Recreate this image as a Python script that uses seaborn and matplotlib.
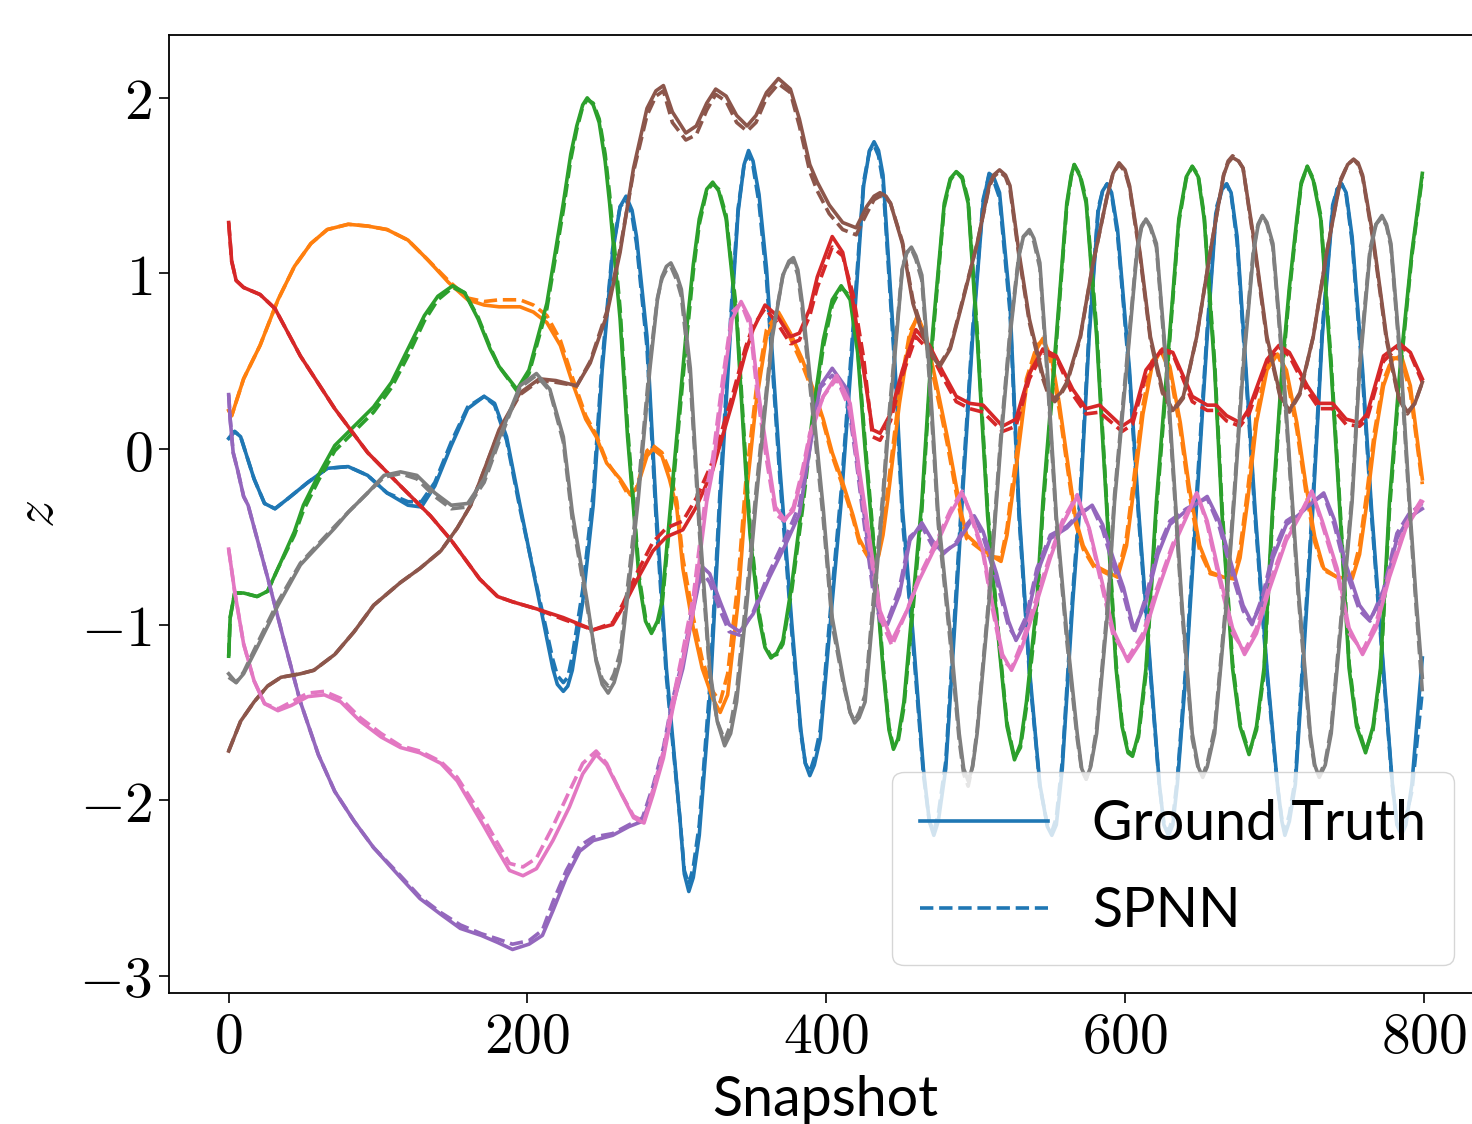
import matplotlib
matplotlib.use("Agg")
import matplotlib.pyplot as plt
from matplotlib.lines import Line2D
from matplotlib.ticker import FuncFormatter
import seaborn as sns

# Latent trajectories: ground truth vs SPNN prediction, one x grid per mode

BLUE_X = [0, 4, 8, 17, 24, 31, 40, 53, 66, 80,
          93, 106, 120, 129, 138, 149, 160, 171, 178, 186,
          195, 208, 217, 220, 224, 227, 230, 237, 244, 250,
          257, 262, 266, 270, 273, 280, 286, 293, 302, 305,
          308, 311, 315, 322, 329, 337, 341, 345, 348, 351,
          355, 360, 369, 377, 383, 386, 389, 392, 396, 404,
          410, 418, 425, 429, 432, 435, 438, 445, 451, 458,
          465, 469, 472, 475, 480, 487, 491, 498, 505, 509,
          512, 516, 523, 529, 536, 543, 548, 551, 554, 558,
          565, 570, 576, 582, 585, 588, 591, 595, 603, 609,
          617, 623, 626, 629, 632, 635, 641, 648, 655, 661,
          665, 668, 671, 675, 681, 687, 695, 702, 705, 707,
          710, 714, 719, 726, 732, 739, 742, 745, 748, 752,
          759, 765, 773, 779, 782, 785, 788, 792, 799]
BLUE_GT = [0.06, 0.10, 0.07, -0.17, -0.31, -0.34, -0.28, -0.19, -0.11, -0.10,
           -0.15, -0.25, -0.32, -0.33, -0.21, 0.02, 0.23, 0.30, 0.26, 0.07,
           -0.32, -0.87, -1.25, -1.34, -1.38, -1.35, -1.26, -0.87, -0.32, 0.45,
           1.12, 1.38, 1.44, 1.36, 1.21, 0.64, -0.32, -1.25, -2.10, -2.42,
           -2.52, -2.44, -2.20, -1.44, -0.30, 0.83, 1.35, 1.62, 1.70, 1.64,
           1.45, 1.03, -0.11, -1.00, -1.60, -1.79, -1.86, -1.80, -1.65, -0.87,
           -0.30, 0.64, 1.50, 1.70, 1.75, 1.70, 1.56, 0.64, -0.34, -1.05,
           -1.82, -2.12, -2.20, -2.12, -1.82, -0.87, -0.30, 0.64, 1.40, 1.57,
           1.55, 1.46, 0.83, -0.34, -1.25, -1.91, -2.15, -2.20, -2.14, -1.82,
           -0.87, -0.30, 0.64, 1.35, 1.47, 1.51, 1.46, 1.25, 0.45, -0.34,
           -1.25, -1.91, -2.14, -2.20, -2.14, -1.91, -1.25, -0.30, 0.64, 1.35,
           1.48, 1.51, 1.46, 1.21, 0.45, -0.34, -1.25, -1.91, -2.12, -2.20,
           -2.12, -1.91, -1.25, -0.30, 0.64, 1.37, 1.48, 1.51, 1.46, 1.21,
           0.45, -0.34, -1.25, -1.91, -2.14, -2.20, -2.14, -1.91, -1.19]
BLUE_SPNN = [0.06, 0.10, 0.07, -0.17, -0.31, -0.34, -0.28, -0.19, -0.11, -0.10,
             -0.15, -0.25, -0.30, -0.30, -0.19, 0.04, 0.24, 0.30, 0.25, 0.05,
             -0.34, -0.85, -1.20, -1.29, -1.33, -1.30, -1.18, -0.80, -0.25, 0.50,
             1.14, 1.38, 1.42, 1.33, 1.17, 0.58, -0.38, -1.30, -2.10, -2.40,
             -2.48, -2.38, -2.14, -1.36, -0.22, 0.88, 1.37, 1.62, 1.68, 1.61,
             1.40, 0.97, -0.17, -1.05, -1.62, -1.79, -1.84, -1.76, -1.60, -0.80,
             -0.24, 0.70, 1.52, 1.70, 1.73, 1.67, 1.52, 0.58, -0.40, -1.10,
             -1.85, -2.12, -2.18, -2.08, -1.78, -0.80, -0.24, 0.68, 1.42, 1.56,
             1.53, 1.43, 0.78, -0.38, -1.28, -1.92, -2.14, -2.18, -2.10, -1.78,
             -0.82, -0.25, 0.68, 1.37, 1.47, 1.51, 1.45, 1.22, 0.41, -0.38,
             -1.28, -1.92, -2.13, -2.18, -2.10, -1.88, -1.20, -0.25, 0.68, 1.37,
             1.48, 1.51, 1.45, 1.18, 0.41, -0.38, -1.28, -1.92, -2.11, -2.18,
             -2.08, -1.88, -1.20, -0.25, 0.68, 1.39, 1.48, 1.51, 1.45, 1.18,
             0.41, -0.38, -1.28, -1.92, -2.13, -2.18, -2.10, -1.95, -1.38]

ORANGE_X = [0, 2, 10, 21, 33, 44, 55, 66, 80, 93,
            106, 120, 133, 147, 160, 171, 181, 195, 204, 213,
            222, 230, 239, 246, 253, 262, 268, 273, 280, 284,
            290, 295, 300, 304, 311, 317, 324, 329, 334, 341,
            346, 353, 360, 368, 376, 384, 393, 398, 404, 411,
            418, 422, 429, 435, 438, 441, 449, 456, 461, 467,
            474, 481, 487, 490, 494, 503, 509, 517, 521, 524,
            528, 534, 541, 545, 551, 556, 562, 567, 572, 579,
            588, 595, 601, 606, 612, 618, 624, 630, 637, 643,
            650, 657, 666, 673, 677, 682, 688, 695, 702, 708,
            715, 721, 727, 733, 742, 752, 757, 762, 767, 773,
            779, 785, 791, 799]
ORANGE_GT = [0.22, 0.19, 0.40, 0.59, 0.85, 1.04, 1.17, 1.25, 1.28, 1.27,
             1.25, 1.19, 1.08, 0.95, 0.85, 0.82, 0.81, 0.81, 0.78, 0.72,
             0.59, 0.38, 0.17, 0.07, -0.08, -0.17, -0.25, -0.23, -0.04, 0.00,
             -0.04, -0.17, -0.34, -0.68, -1.02, -1.25, -1.42, -1.50, -1.40, -0.87,
             -0.30, 0.26, 0.64, 0.78, 0.66, 0.51, 0.30, 0.17, -0.02, -0.19,
             -0.38, -0.51, -0.62, -0.61, -0.49, -0.30, 0.26, 0.64, 0.76, 0.64,
             0.36, 0.07, -0.21, -0.35, -0.49, -0.56, -0.60, -0.64, -0.49, -0.30,
             -0.05, 0.36, 0.57, 0.63, 0.51, 0.26, -0.10, -0.40, -0.55, -0.66,
             -0.70, -0.73, -0.55, -0.22, 0.20, 0.47, 0.56, 0.47, 0.15, -0.22,
             -0.55, -0.70, -0.73, -0.74, -0.62, -0.30, 0.15, 0.45, 0.54, 0.45,
             0.15, -0.20, -0.50, -0.68, -0.73, -0.74, -0.60, -0.30, 0.05, 0.36,
             0.51, 0.53, 0.36, -0.17]
ORANGE_SPNN = [0.22, 0.19, 0.40, 0.59, 0.85, 1.04, 1.17, 1.25, 1.28, 1.27,
               1.25, 1.19, 1.08, 0.96, 0.86, 0.84, 0.85, 0.85, 0.82, 0.76,
               0.62, 0.41, 0.19, 0.08, -0.07, -0.18, -0.27, -0.22, -0.01, 0.02,
               -0.02, -0.12, -0.30, -0.62, -0.96, -1.20, -1.38, -1.44, -1.28, -0.75,
               -0.20, 0.33, 0.68, 0.78, 0.63, 0.48, 0.28, 0.15, -0.04, -0.21,
               -0.40, -0.53, -0.63, -0.60, -0.45, -0.24, 0.32, 0.67, 0.75, 0.60,
               0.32, 0.03, -0.25, -0.38, -0.51, -0.57, -0.61, -0.62, -0.45, -0.24,
               0.01, 0.40, 0.59, 0.62, 0.48, 0.22, -0.14, -0.43, -0.57, -0.67,
               -0.71, -0.72, -0.50, -0.16, 0.25, 0.50, 0.56, 0.44, 0.11, -0.26,
               -0.58, -0.71, -0.73, -0.72, -0.57, -0.24, 0.20, 0.48, 0.54, 0.42,
               0.11, -0.24, -0.53, -0.69, -0.73, -0.72, -0.55, -0.24, 0.10, 0.39,
               0.52, 0.51, 0.32, -0.20]

GREEN_X = [0, 1, 4, 10, 19, 26, 33, 44, 50, 60,
           71, 84, 97, 109, 120, 131, 140, 150, 158, 167,
           175, 181, 193, 201, 213, 224, 229, 233, 237, 240,
           244, 248, 252, 255, 262, 267, 271, 275, 279, 283,
           287, 290, 296, 306, 311, 315, 320, 324, 328, 333,
           340, 346, 349, 355, 359, 363, 367, 371, 377, 384,
           391, 398, 404, 410, 416, 421, 426, 431, 438, 442,
           445, 448, 452, 458, 464, 471, 479, 483, 487, 491,
           495, 501, 508, 516, 521, 526, 530, 534, 541, 545,
           554, 561, 564, 566, 570, 574, 581, 588, 594, 598,
           602, 605, 609, 614, 621, 628, 636, 641, 645, 649,
           653, 660, 665, 672, 677, 683, 688, 693, 699, 705,
           710, 715, 718, 722, 726, 731, 738, 744, 750, 755,
           761, 766, 771, 777, 784, 792, 799]
GREEN_GT = [-1.18, -0.96, -0.82, -0.82, -0.84, -0.81, -0.68, -0.47, -0.32, -0.15,
            0.02, 0.13, 0.24, 0.38, 0.57, 0.76, 0.87, 0.93, 0.89, 0.74,
            0.57, 0.47, 0.34, 0.45, 0.83, 1.40, 1.68, 1.84, 1.96, 2.00,
            1.96, 1.86, 1.64, 1.40, 0.74, 0.07, -0.34, -0.77, -0.98, -1.05,
            -0.98, -0.87, -0.30, 0.64, 1.05, 1.31, 1.48, 1.52, 1.47, 1.31,
            0.74, -0.11, -0.49, -0.96, -1.13, -1.19, -1.16, -1.09, -0.77, -0.30,
            0.20, 0.62, 0.85, 0.93, 0.85, 0.55, 0.00, -0.49, -1.25, -1.60,
            -1.71, -1.65, -1.44, -0.87, -0.30, 0.64, 1.40, 1.54, 1.58, 1.54,
            1.40, 0.64, -0.38, -1.15, -1.58, -1.77, -1.68, -1.44, -0.87, -0.30,
            0.64, 1.40, 1.56, 1.62, 1.55, 1.40, 0.64, -0.38, -1.25, -1.58,
            -1.73, -1.75, -1.62, -1.25, -0.30, 0.45, 1.31, 1.55, 1.61, 1.55,
            1.31, 0.45, -0.38, -1.25, -1.58, -1.74, -1.58, -1.25, -0.30, 0.45,
            0.92, 1.31, 1.52, 1.61, 1.53, 1.31, 0.45, -0.38, -1.25, -1.58,
            -1.73, -1.58, -1.25, -0.30, 0.45, 1.12, 1.57]
GREEN_SPNN = [-1.18, -0.96, -0.82, -0.82, -0.84, -0.81, -0.68, -0.49, -0.35, -0.18,
              -0.01, 0.10, 0.21, 0.35, 0.53, 0.73, 0.85, 0.92, 0.89, 0.75,
              0.58, 0.47, 0.33, 0.43, 0.80, 1.36, 1.65, 1.82, 1.95, 1.99,
              1.97, 1.88, 1.68, 1.45, 0.80, 0.12, -0.30, -0.74, -0.96, -1.04,
              -1.00, -0.90, -0.35, 0.58, 1.01, 1.28, 1.47, 1.51, 1.48, 1.33,
              0.78, -0.06, -0.45, -0.93, -1.12, -1.18, -1.17, -1.11, -0.80, -0.35,
              0.16, 0.58, 0.82, 0.92, 0.87, 0.58, 0.04, -0.45, -1.22, -1.58,
              -1.70, -1.67, -1.47, -0.92, -0.35, 0.60, 1.38, 1.53, 1.58, 1.55,
              1.42, 0.68, -0.34, -1.12, -1.56, -1.76, -1.70, -1.47, -0.92, -0.35,
              0.60, 1.38, 1.55, 1.62, 1.56, 1.42, 0.68, -0.34, -1.22, -1.56,
              -1.72, -1.74, -1.64, -1.28, -0.35, 0.41, 1.29, 1.54, 1.61, 1.56,
              1.33, 0.49, -0.34, -1.22, -1.56, -1.73, -1.60, -1.28, -0.35, 0.41,
              0.89, 1.29, 1.51, 1.61, 1.54, 1.33, 0.49, -0.34, -1.22, -1.56,
              -1.72, -1.60, -1.28, -0.35, 0.41, 1.10, 1.55]

RED_X = [0, 2, 5, 10, 21, 31, 48, 71, 93, 115,
         135, 149, 168, 180, 190, 206, 224, 244, 257, 264,
         273, 284, 293, 304, 313, 324, 337, 346, 351, 359,
         367, 376, 382, 389, 394, 404, 411, 418, 425, 431,
         436, 443, 451, 460, 469, 478, 487, 496, 505, 518,
         527, 536, 545, 554, 565, 574, 583, 598, 605, 614,
         625, 632, 645, 655, 661, 668, 677, 683, 695, 703,
         710, 722, 730, 739, 748, 757, 762, 773, 784, 791,
         799]
RED_GT = [1.29, 1.07, 0.96, 0.92, 0.88, 0.80, 0.53, 0.23, -0.02, -0.21,
          -0.38, -0.52, -0.74, -0.84, -0.87, -0.91, -0.96, -1.03, -1.00, -0.90,
          -0.75, -0.58, -0.50, -0.46, -0.33, -0.12, 0.26, 0.55, 0.68, 0.82,
          0.76, 0.64, 0.66, 0.80, 0.98, 1.21, 1.12, 0.83, 0.45, 0.11,
          0.09, 0.20, 0.45, 0.68, 0.59, 0.44, 0.30, 0.26, 0.25, 0.13,
          0.17, 0.43, 0.57, 0.53, 0.34, 0.23, 0.25, 0.13, 0.17, 0.45,
          0.57, 0.55, 0.30, 0.25, 0.25, 0.19, 0.15, 0.23, 0.51, 0.59,
          0.55, 0.36, 0.26, 0.26, 0.17, 0.15, 0.20, 0.53, 0.60, 0.55,
          0.40]
RED_SPNN = [1.29, 1.07, 0.96, 0.92, 0.88, 0.80, 0.53, 0.23, -0.02, -0.21,
            -0.38, -0.52, -0.74, -0.84, -0.87, -0.91, -0.97, -1.03, -0.99, -0.88,
            -0.71, -0.53, -0.45, -0.41, -0.28, -0.07, 0.30, 0.58, 0.70, 0.80,
            0.72, 0.60, 0.62, 0.76, 0.92, 1.15, 1.10, 0.88, 0.52, 0.07,
            0.05, 0.16, 0.42, 0.64, 0.56, 0.41, 0.27, 0.23, 0.21, 0.10,
            0.13, 0.40, 0.55, 0.52, 0.31, 0.20, 0.21, 0.10, 0.14, 0.42,
            0.56, 0.54, 0.27, 0.22, 0.22, 0.16, 0.13, 0.20, 0.49, 0.58,
            0.53, 0.33, 0.23, 0.23, 0.14, 0.13, 0.17, 0.50, 0.59, 0.54,
            0.38]

PURPLE_X = [0, 1, 3, 6, 10, 13, 26, 37, 48, 60,
            71, 84, 97, 115, 128, 142, 155, 169, 180, 190,
            201, 210, 217, 226, 235, 244, 257, 268, 277, 284,
            291, 297, 304, 311, 317, 322, 329, 335, 342, 351,
            362, 373, 382, 389, 396, 404, 414, 420, 425, 431,
            436, 441, 449, 456, 464, 471, 478, 487, 494, 499,
            505, 514, 522, 527, 534, 541, 550, 561, 570, 578,
            585, 592, 599, 606, 614, 622, 630, 641, 650, 655,
            663, 672, 679, 685, 692, 699, 708, 717, 726, 733,
            740, 748, 757, 764, 773, 782, 790, 799]
PURPLE_GT = [0.31, 0.17, -0.02, -0.12, -0.27, -0.32, -0.73, -1.09, -1.44, -1.74,
             -1.95, -2.12, -2.27, -2.44, -2.56, -2.65, -2.73, -2.77, -2.81, -2.85,
             -2.82, -2.77, -2.63, -2.44, -2.29, -2.23, -2.20, -2.15, -2.12, -1.95,
             -1.74, -1.47, -1.25, -0.92, -0.67, -0.71, -0.87, -1.00, -1.04, -0.94,
             -0.73, -0.54, -0.37, 0.00, 0.36, 0.46, 0.34, -0.02, -0.35, -0.75,
             -0.96, -1.00, -0.83, -0.52, -0.42, -0.52, -0.59, -0.54, -0.45, -0.38,
             -0.47, -0.71, -0.98, -1.09, -0.98, -0.71, -0.51, -0.45, -0.37, -0.32,
             -0.43, -0.62, -0.79, -1.03, -0.87, -0.60, -0.43, -0.35, -0.30, -0.27,
             -0.41, -0.68, -0.89, -0.99, -0.87, -0.62, -0.43, -0.37, -0.30, -0.25,
             -0.40, -0.66, -0.89, -0.97, -0.83, -0.51, -0.39, -0.34]
PURPLE_SPNN = [0.31, 0.17, -0.02, -0.12, -0.27, -0.32, -0.73, -1.09, -1.44, -1.74,
               -1.95, -2.12, -2.27, -2.43, -2.55, -2.64, -2.71, -2.76, -2.79, -2.82,
               -2.80, -2.74, -2.58, -2.40, -2.26, -2.21, -2.19, -2.14, -2.10, -1.92,
               -1.70, -1.43, -1.20, -0.88, -0.70, -0.76, -0.92, -1.04, -1.06, -0.93,
               -0.70, -0.50, -0.32, 0.03, 0.35, 0.42, 0.30, -0.06, -0.40, -0.79,
               -0.98, -0.98, -0.79, -0.50, -0.44, -0.55, -0.60, -0.53, -0.43, -0.38,
               -0.50, -0.75, -1.01, -1.08, -0.95, -0.68, -0.49, -0.44, -0.36, -0.33,
               -0.46, -0.66, -0.83, -1.05, -0.84, -0.57, -0.41, -0.34, -0.30, -0.28,
               -0.44, -0.72, -0.92, -1.00, -0.84, -0.59, -0.41, -0.36, -0.30, -0.26,
               -0.43, -0.70, -0.92, -0.98, -0.80, -0.48, -0.37, -0.31]

BROWN_X = [0, 8, 17, 26, 35, 48, 57, 71, 84, 97,
           115, 128, 142, 153, 162, 171, 181, 195, 208, 219,
           233, 242, 253, 262, 271, 280, 286, 291, 297, 306,
           313, 320, 326, 333, 340, 347, 353, 360, 368, 376,
           382, 389, 394, 402, 411, 420, 427, 432, 436, 440,
           443, 451, 458, 465, 471, 476, 483, 491, 501, 509,
           512, 516, 520, 523, 529, 536, 545, 549, 553, 557,
           561, 570, 578, 588, 592, 596, 600, 603, 610, 617,
           625, 632, 639, 648, 657, 666, 669, 672, 676, 679,
           686, 695, 704, 710, 717, 726, 735, 744, 749, 753,
           756, 759, 766, 775, 783, 789, 794, 799]
BROWN_GT = [-1.72, -1.55, -1.44, -1.35, -1.30, -1.28, -1.26, -1.17, -1.04, -0.89,
            -0.76, -0.68, -0.58, -0.45, -0.32, -0.12, 0.11, 0.32, 0.40, 0.39,
            0.36, 0.49, 0.76, 1.12, 1.60, 1.94, 2.04, 2.07, 1.92, 1.80,
            1.84, 1.97, 2.05, 2.01, 1.90, 1.84, 1.90, 2.03, 2.11, 2.05,
            1.88, 1.62, 1.52, 1.39, 1.29, 1.26, 1.38, 1.44, 1.46, 1.44,
            1.40, 1.17, 0.83, 0.64, 0.53, 0.47, 0.57, 0.83, 1.17, 1.50,
            1.56, 1.59, 1.56, 1.50, 1.12, 0.74, 0.42, 0.32, 0.29, 0.32,
            0.38, 0.64, 1.03, 1.44, 1.57, 1.63, 1.59, 1.50, 1.12, 0.64,
            0.34, 0.22, 0.30, 0.64, 1.12, 1.56, 1.63, 1.66, 1.64, 1.60,
            1.21, 0.64, 0.30, 0.22, 0.32, 0.64, 1.12, 1.52, 1.62, 1.65,
            1.63, 1.56, 1.21, 0.64, 0.30, 0.21, 0.26, 0.38]
BROWN_SPNN = [-1.72, -1.55, -1.44, -1.35, -1.30, -1.28, -1.26, -1.17, -1.04, -0.89,
              -0.76, -0.68, -0.58, -0.45, -0.32, -0.12, 0.10, 0.31, 0.39, 0.38,
              0.36, 0.50, 0.78, 1.14, 1.58, 1.90, 2.01, 2.04, 1.86, 1.76,
              1.79, 1.93, 2.02, 1.98, 1.86, 1.81, 1.86, 2.00, 2.08, 2.03,
              1.84, 1.58, 1.47, 1.34, 1.25, 1.22, 1.34, 1.42, 1.44, 1.43,
              1.40, 1.18, 0.85, 0.66, 0.54, 0.48, 0.58, 0.84, 1.17, 1.49,
              1.55, 1.58, 1.55, 1.48, 1.10, 0.72, 0.40, 0.30, 0.27, 0.31,
              0.37, 0.63, 1.03, 1.44, 1.57, 1.62, 1.58, 1.49, 1.10, 0.62,
              0.32, 0.21, 0.29, 0.64, 1.12, 1.56, 1.64, 1.67, 1.64, 1.60,
              1.19, 0.62, 0.29, 0.21, 0.31, 0.64, 1.12, 1.53, 1.62, 1.65,
              1.62, 1.55, 1.19, 0.62, 0.29, 0.20, 0.26, 0.38]

PINK_X = [0, 4, 10, 17, 24, 33, 42, 53, 64, 75,
          88, 102, 115, 128, 142, 153, 162, 171, 179, 188,
          197, 206, 217, 228, 237, 246, 253, 262, 271, 278,
          284, 291, 297, 304, 311, 315, 320, 324, 331, 337,
          343, 349, 354, 360, 366, 372, 378, 384, 389, 398,
          407, 416, 422, 428, 436, 444, 454, 462, 474, 483,
          491, 496, 505, 511, 518, 524, 531, 541, 550, 558,
          568, 576, 585, 592, 602, 612, 621, 632, 641, 648,
          655, 663, 672, 680, 688, 697, 708, 719, 725, 732,
          742, 750, 759, 768, 777, 788, 799]
PINK_GT = [-0.57, -0.81, -1.11, -1.32, -1.45, -1.49, -1.46, -1.41, -1.40, -1.44,
           -1.55, -1.64, -1.70, -1.73, -1.79, -1.89, -2.02, -2.15, -2.27, -2.40,
           -2.43, -2.39, -2.23, -2.04, -1.85, -1.74, -1.80, -1.95, -2.10, -2.13,
           -1.97, -1.76, -1.49, -1.21, -0.92, -0.64, -0.30, -0.12, 0.36, 0.74,
           0.84, 0.74, 0.36, 0.00, -0.33, -0.40, -0.35, -0.15, 0.07, 0.30,
           0.42, 0.26, -0.11, -0.45, -0.92, -1.09, -0.92, -0.75, -0.54, -0.37,
           -0.25, -0.35, -0.58, -0.87, -1.17, -1.26, -1.13, -0.87, -0.62, -0.43,
           -0.27, -0.45, -0.77, -1.03, -1.21, -1.08, -0.83, -0.56, -0.39, -0.25,
           -0.41, -0.71, -1.02, -1.17, -1.05, -0.79, -0.52, -0.35, -0.24, -0.41,
           -0.68, -1.02, -1.17, -1.02, -0.73, -0.45, -0.30]
PINK_SPNN = [-0.57, -0.81, -1.11, -1.32, -1.45, -1.48, -1.44, -1.39, -1.38, -1.42,
             -1.53, -1.62, -1.69, -1.72, -1.78, -1.87, -1.99, -2.11, -2.23, -2.36,
             -2.38, -2.33, -2.15, -1.95, -1.79, -1.72, -1.79, -1.95, -2.09, -2.12,
             -1.94, -1.72, -1.44, -1.15, -0.84, -0.56, -0.22, -0.05, 0.42, 0.78,
             0.83, 0.70, 0.30, -0.06, -0.37, -0.41, -0.33, -0.12, 0.09, 0.30,
             0.40, 0.22, -0.16, -0.50, -0.96, -1.12, -0.92, -0.73, -0.52, -0.35,
             -0.24, -0.36, -0.60, -0.90, -1.20, -1.25, -1.10, -0.84, -0.60, -0.41,
             -0.26, -0.46, -0.80, -1.06, -1.19, -1.05, -0.80, -0.54, -0.37, -0.25,
             -0.43, -0.74, -1.05, -1.15, -1.02, -0.76, -0.50, -0.34, -0.24, -0.43,
             -0.71, -1.05, -1.15, -0.99, -0.70, -0.43, -0.28]

GRAY_X = [0, 5, 10, 19, 33, 48, 71, 80, 93, 104,
          115, 126, 138, 149, 160, 171, 180, 195, 206, 215,
          224, 230, 240, 246, 250, 254, 258, 262, 268, 274,
          282, 287, 290, 293, 296, 300, 303, 309, 315, 322,
          327, 332, 336, 340, 347, 353, 357, 364, 371, 375,
          378, 381, 384, 391, 398, 404, 412, 416, 419, 422,
          426, 432, 438, 441, 447, 451, 454, 457, 460, 464,
          469, 475, 483, 489, 492, 495, 498, 501, 509, 514,
          517, 523, 529, 532, 536, 539, 543, 548, 554, 561,
          568, 571, 574, 577, 581, 588, 593, 601, 608, 611,
          614, 617, 621, 628, 633, 638, 645, 649, 652, 655,
          660, 668, 673, 679, 686, 689, 692, 695, 699, 706,
          712, 716, 724, 727, 730, 734, 738, 746, 752, 757,
          764, 768, 772, 775, 778, 785, 791, 795, 799]
GRAY_GT = [-1.28, -1.33, -1.28, -1.13, -0.89, -0.66, -0.45, -0.36, -0.25, -0.15,
           -0.13, -0.15, -0.25, -0.32, -0.31, -0.17, 0.04, 0.36, 0.43, 0.34,
           0.07, -0.36, -0.87, -1.21, -1.34, -1.39, -1.33, -1.21, -0.77, -0.30,
           0.46, 0.85, 0.98, 1.04, 1.06, 0.99, 0.91, 0.46, -0.40, -1.25,
           -1.55, -1.69, -1.62, -1.44, -0.87, -0.30, 0.05, 0.64, 0.99, 1.07,
           1.09, 1.02, 0.83, 0.26, -0.34, -0.96, -1.34, -1.50, -1.56, -1.53,
           -1.44, -0.87, -0.30, 0.05, 0.64, 1.03, 1.12, 1.15, 1.10, 0.99,
           0.45, -0.38, -1.05, -1.62, -1.82, -1.89, -1.81, -1.62, -0.87, -0.30,
           0.05, 0.64, 1.10, 1.21, 1.25, 1.20, 1.06, 0.45, -0.38, -1.05,
           -1.62, -1.82, -1.88, -1.81, -1.62, -0.96, -0.30, 0.45, 1.12, 1.26,
           1.31, 1.27, 1.17, 0.45, -0.20, -0.87, -1.62, -1.81, -1.87, -1.81,
           -1.62, -0.87, -0.30, 0.45, 1.12, 1.27, 1.33, 1.29, 1.17, 0.45,
           -0.30, -0.80, -1.62, -1.80, -1.87, -1.80, -1.62, -0.87, -0.30, 0.45,
           1.12, 1.28, 1.33, 1.28, 1.17, 0.45, -0.38, -0.87, -1.30]
GRAY_SPNN = [-1.30, -1.33, -1.27, -1.11, -0.87, -0.65, -0.44, -0.36, -0.25, -0.16,
             -0.14, -0.17, -0.27, -0.34, -0.33, -0.19, 0.02, 0.35, 0.42, 0.33,
             0.04, -0.40, -0.90, -1.20, -1.31, -1.35, -1.28, -1.16, -0.71, -0.24,
             0.50, 0.86, 0.97, 1.02, 1.04, 0.96, 0.87, 0.40, -0.46, -1.28,
             -1.55, -1.66, -1.57, -1.38, -0.80, -0.24, 0.10, 0.66, 0.99, 1.06,
             1.07, 0.99, 0.79, 0.20, -0.40, -1.00, -1.36, -1.50, -1.55, -1.50,
             -1.40, -0.81, -0.25, 0.10, 0.67, 1.04, 1.12, 1.14, 1.08, 0.96,
             0.40, -0.43, -1.10, -1.66, -1.85, -1.92, -1.80, -1.60, -0.83, -0.26,
             0.09, 0.67, 1.11, 1.21, 1.24, 1.18, 1.03, 0.41, -0.42, -1.09,
             -1.65, -1.83, -1.88, -1.80, -1.59, -0.92, -0.26, 0.49, 1.14, 1.27,
             1.31, 1.26, 1.15, 0.41, -0.24, -0.91, -1.65, -1.82, -1.86, -1.79,
             -1.59, -0.83, -0.26, 0.49, 1.14, 1.28, 1.33, 1.28, 1.15, 0.41,
             -0.34, -0.84, -1.65, -1.81, -1.86, -1.78, -1.59, -0.83, -0.26, 0.49,
             1.14, 1.28, 1.32, 1.27, 1.15, 0.41, -0.42, -0.92, -1.38]

SERIES = [
    (BLUE_X, BLUE_GT, BLUE_SPNN),
    (ORANGE_X, ORANGE_GT, ORANGE_SPNN),
    (GREEN_X, GREEN_GT, GREEN_SPNN),
    (RED_X, RED_GT, RED_SPNN),
    (PURPLE_X, PURPLE_GT, PURPLE_SPNN),
    (BROWN_X, BROWN_GT, BROWN_SPNN),
    (PINK_X, PINK_GT, PINK_SPNN),
    (GRAY_X, GRAY_GT, GRAY_SPNN),
]


def main():
    plt.rcParams["mathtext.fontset"] = "cm"
    plt.rcParams["font.family"] = ["Lato", "DejaVu Sans"]

    fig = plt.figure(figsize=(14.72, 11.24), dpi=100)
    # axes runs a bit past the right edge, like the cropped original
    ax = fig.add_axes([169 / 1472, 131 / 1124, 1313 / 1472, 958 / 1124])

    palette = sns.color_palette("tab10")
    lw = 2.6
    for i, (xs, gt, spnn) in enumerate(SERIES):
        c = palette[i]
        sns.lineplot(x=xs, y=gt, color=c, linewidth=lw, ax=ax)
        sns.lineplot(x=xs, y=spnn, color=c, linewidth=lw, linestyle="--", ax=ax)

    ax.set_xticks([0, 200, 400, 600, 800])
    ax.set_yticks([-3, -2, -1, 0, 1, 2])
    fmt = FuncFormatter(lambda v, p: f"${v:.0f}$")
    ax.xaxis.set_major_formatter(fmt)
    ax.yaxis.set_major_formatter(fmt)
    ax.tick_params(labelsize=41.5, length=7, width=1.2, pad=5)
    for s in ax.spines.values():
        s.set_linewidth(1.3)

    ax.set_xlabel("Snapshot", fontsize=40, labelpad=9)
    ax.set_ylabel("$z$", fontsize=40, labelpad=12)

    handles = [Line2D([], [], color=palette[0], lw=lw),
               Line2D([], [], color=palette[0], lw=lw, ls="--")]
    ax.legend(handles, ["Ground Truth", "SPNN"], loc="lower right",
              fontsize=40, handlelength=2.3, labelspacing=0.65, borderpad=0.5)

    fig.savefig("out.png", dpi=100)


if __name__ == "__main__":
    main()
